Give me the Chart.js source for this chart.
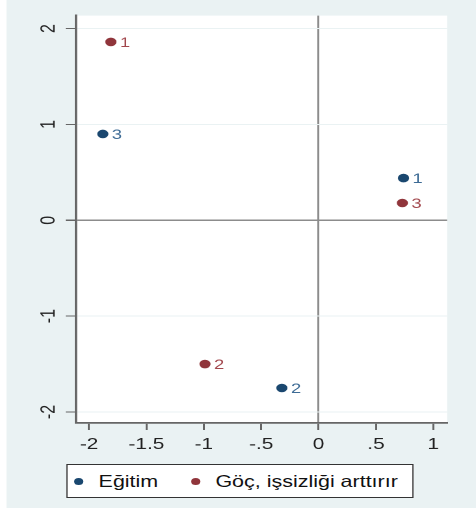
<!DOCTYPE html>
<html>
<head>
<meta charset="utf-8">
<script src="https://cdn.jsdelivr.net/npm/chart.js@4.4.1/dist/chart.umd.min.js"></script>
<style>
    body { margin: 0; background: #fff; overflow: hidden; width: 476px; height: 511px; }
    #wrap { position: absolute; left: 0; top: 0; width: 366px; height: 511px; transform: scaleX(1.3005); transform-origin: 0 0; }
    #panel { position: absolute; left: 5.4px; top: 0; width: 360.6px; height: 508px; background: #eaf2f3; }
    #scatter { position: absolute; left: 0; top: 0; }
    #legend { position: absolute; left: 50.8px; top: 464px; width: 265px; height: 32px; background: #fff; border: 1.5px solid #333;
        display: flex; align-items: center; font: 16.5px "Liberation Sans", Arial, sans-serif; color: #111; }
    #legend .item { display: flex; align-items: center; }
    #legend .dot { width: 7px; height: 7px; border-radius: 50%; margin-right: 12px; }
</style>
</head>
<body>
<div id="wrap">
    <div id="panel"></div>
    <canvas id="scatter" width="366" height="455"></canvas>
    <div id="legend"></div>
</div>
<script>
const seriesNames = ['Eğitim', 'Göç, işsizliği arttırır'];
const seriesColors = ['#1a476f', '#90353b'];
const labelColors = ['#3d6b95', '#a2464c'];

const pointLabels = ['1', '2', '3'];
const egitimX = [0.74, -0.32, -1.88];
const egitimY = [0.44, -1.75, 0.90];
const gocX = [-1.81, -0.99, 0.73];
const gocY = [1.86, -1.50, 0.18];

const xTicks = [-2, -1.5, -1, -0.5, 0, 0.5, 1];
const xTickLabels = ['-2', '-1.5', '-1', '-.5', '0', '.5', '1'];
const yTicks = [-2, -1, 0, 1, 2];
const yTickLabels = ['-2', '-1', '0', '1', '2'];

document.addEventListener('DOMContentLoaded', function() {
    const toPoints = (xs, ys) => xs.map((x, i) => ({ x: x, y: ys[i] }));

    const plotBackground = {
        id: 'plotBackground',
        beforeDraw(chart) {
            const a = chart.chartArea;
            chart.ctx.save();
            chart.ctx.fillStyle = '#fff';
            chart.ctx.fillRect(a.left, a.top, a.right - a.left, a.bottom - a.top);
            chart.ctx.restore();
        }
    };

    const markerLabels = {
        id: 'markerLabels',
        afterDatasetsDraw(chart) {
            const ctx = chart.ctx;
            ctx.save();
            ctx.font = '14px "Liberation Sans", Arial, sans-serif';
            ctx.textBaseline = 'middle';
            chart.data.datasets.forEach((ds, i) => {
                ctx.fillStyle = labelColors[i];
                chart.getDatasetMeta(i).data.forEach((pt, j) => {
                    ctx.fillText(pointLabels[j], pt.x + 7, pt.y + 1);
                });
            });
            ctx.restore();
        }
    };

    const tickFont = { family: '"Liberation Sans", Arial, sans-serif', size: 16 };

    const chart = new Chart(document.getElementById('scatter'), {
        type: 'scatter',
        data: {
            datasets: [
                { label: seriesNames[0], data: toPoints(egitimX, egitimY), backgroundColor: seriesColors[0], borderColor: seriesColors[0], pointRadius: 4.3, borderWidth: 0 },
                { label: seriesNames[1], data: toPoints(gocX, gocY), backgroundColor: seriesColors[1], borderColor: seriesColors[1], pointRadius: 4.3, borderWidth: 0 }
            ]
        },
        options: {
            responsive: false,
            animation: false,
            devicePixelRatio: 2,
            layout: { padding: { left: 0, right: 22.2, top: 15, bottom: 0 } },
            plugins: {
                legend: { display: false },
                tooltip: { enabled: false }
            },
            scales: {
                x: {
                    type: 'linear',
                    min: -2.113,
                    max: 1.12,
                    afterBuildTicks: scale => { scale.ticks = xTicks.map(v => ({ value: v })); },
                    afterFit: scale => { scale.height = 32; },
                    ticks: {
                        font: tickFont,
                        color: '#222',
                        padding: 5,
                        maxRotation: 0,
                        callback: (v) => xTickLabels[xTicks.indexOf(v)]
                    },
                    grid: {
                        color: ctx => ctx.tick && ctx.tick.value === 0 ? '#8c8c8c' : 'rgba(0,0,0,0)',
                        lineWidth: 1.5,
                        tickColor: '#666',
                        tickLength: 7
                    },
                    border: { color: '#666', width: 1.8 }
                },
                y: {
                    type: 'linear',
                    min: -2.115,
                    max: 2.135,
                    afterBuildTicks: scale => { scale.ticks = yTicks.map(v => ({ value: v })); },
                    afterFit: scale => { scale.width = 58.5; },
                    ticks: {
                        font: tickFont,
                        color: '#222',
                        padding: 6,
                        minRotation: 90,
                        maxRotation: 90,
                        crossAlign: 'center',
                        callback: (v) => yTickLabels[yTicks.indexOf(v)]
                    },
                    grid: {
                        color: ctx => ctx.tick && ctx.tick.value === 0 ? '#8c8c8c' : '#eaf2f3',
                        lineWidth: ctx => ctx.tick && ctx.tick.value === 0 ? 1.5 : 1,
                        tickColor: '#666',
                        tickLength: 8
                    },
                    border: { color: '#666', width: 1.8 }
                }
            }
        },
        plugins: [plotBackground, markerLabels]
    });

    const legend = document.getElementById('legend');
    chart.data.datasets.forEach((ds, i) => {
        const item = document.createElement('span');
        item.className = 'item';
        item.style.marginLeft = i === 0 ? '5px' : '25px';
        const dot = document.createElement('span');
        dot.className = 'dot';
        dot.style.background = ds.backgroundColor;
        const text = document.createElement('span');
        text.textContent = ds.label;
        item.appendChild(dot);
        item.appendChild(text);
        legend.appendChild(item);
    });
});
</script>
</body>
</html>
